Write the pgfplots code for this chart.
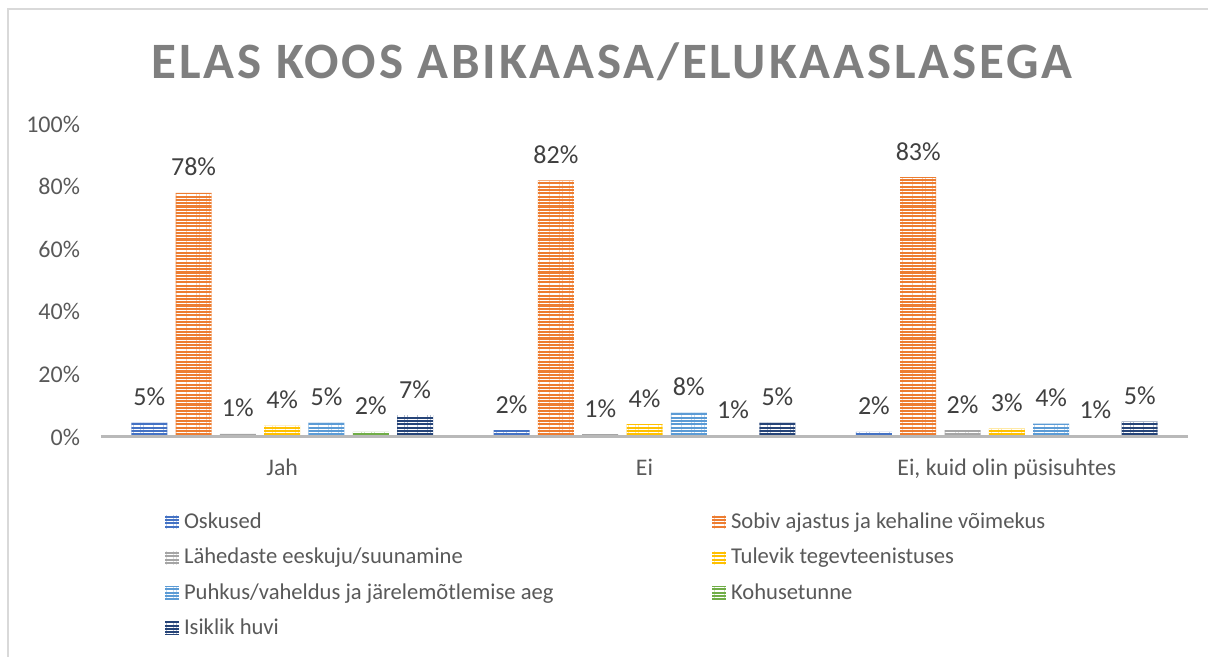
\documentclass[border=0pt]{standalone}
\usepackage{fontspec}
\setmainfont{Carlito}
\newfontfamily\titlefont[LetterSpace=5.5]{Carlito}
\usepackage{pgfplots}
\pgfplotsset{compat=1.18}
\usetikzlibrary{patterns.meta}
\definecolor{cOsk}{HTML}{4472C4}
\definecolor{cSob}{HTML}{ED7D31}
\definecolor{cLah}{HTML}{A5A5A5}
\definecolor{cTul}{HTML}{FFC000}
\definecolor{cPuh}{HTML}{5B9BD5}
\definecolor{cKoh}{HTML}{70AD47}
\definecolor{cIsi}{HTML}{264478}
\definecolor{txt}{HTML}{404040}
\definecolor{tick}{HTML}{595959}
\definecolor{ttl}{HTML}{7F7F7F}
\definecolor{frame}{HTML}{D9D9D9}
\tikzset{stripes/.style={postaction={pattern={Lines[angle=0,distance=1.65pt,line width=0.6pt]},pattern color=white,fill opacity=0.4}}}
\begin{document}
\begin{tikzpicture}
\path[use as bounding box] (0,0) rectangle (604pt,328.5pt);
\draw[frame, line width=1pt] (4pt,0pt) -- (4pt,324pt) -- (606pt,324pt);
\node[anchor=base, font=\titlefont\bfseries\fontsize{25.5}{30}\selectfont, text=ttl] at (306pt,289pt) {ELAS KOOS ABIKAASA/ELUKAASLASEGA};
\begin{axis}[
  at={(50.5pt,110pt)}, anchor=south west,
  scale only axis, width=543.5pt, height=156.5pt,
  xmin=-0.5, xmax=2.5, ymin=0, ymax=100,
  ybar=4.15pt, bar width=18pt,
  axis x line=bottom, axis y line=left,
  x axis line style={draw=gray!55, line width=1.5pt, -},
  y axis line style={draw=none},
  axis on top=true,
  major tick length=0pt,
  xtick={0,1,2},
  xticklabels={Jah, Ei, {Ei, kuid olin püsisuhtes}},
  ytick={0,20,40,60,80,100},
  yticklabel={\pgfmathprintnumber{\tick}\%},
  /pgf/number format/assume math mode=true,
  yticklabel style={font=\fontsize{12}{14}\selectfont, text=tick, xshift=-7pt},
  xticklabel style={font=\fontsize{11.9}{14}\selectfont, text=tick, yshift=-7.5pt},
  nodes near coords={\pgfmathprintnumber[fixed,precision=0]{\pgfplotspointmeta}\%},
  every node near coord/.append style={font=\fontsize{13}{15}\selectfont, text=txt, anchor=base, yshift=8.5pt, fill opacity=1},
  legend columns=2,
  legend style={at={(0.0589,-0.2406)}, anchor=north west, draw=none, inner sep=0pt, outer sep=0pt,
    font=\fontsize{11.3}{13}\selectfont, text=tick,
    nodes={inner xsep=2.5pt, inner ysep=0pt, text height=8pt, text depth=2.5pt},
    /tikz/column sep=0pt, /tikz/row sep=7.2pt},
  legend cell align=left,
  legend image code/.code={\fill[#1,draw=none] (0pt,-3.2pt) rectangle (7pt,3.8pt);},
]
\addplot[fill=cOsk, draw=none, stripes] coordinates {(0,4.6) (1,2.2) (2,1.6)};
\addplot[fill=cSob, draw=none, stripes] coordinates {(0,78) (1,82) (2,83)};
\addplot[fill=cLah, draw=none, stripes] coordinates {(0,1.0) (1,0.9) (2,2.2)};
\addplot[fill=cTul, draw=none, stripes] coordinates {(0,3.6) (1,4.1) (2,2.7)};
\addplot[fill=cPuh, draw=none, stripes] coordinates {(0,4.6) (1,7.8) (2,4.3)};
\addplot[fill=cKoh, draw=none, stripes] coordinates {(0,1.6) (1,0.55) (2,0.55)};
\addplot[fill=cIsi, draw=none, stripes] coordinates {(0,7.0) (1,4.6) (2,4.9)};
\addlegendentry{\makebox[261.5pt][l]{Oskused}}
\addlegendentry{Sobiv ajastus ja kehaline võimekus}
\addlegendentry{\makebox[261.5pt][l]{Lähedaste eeskuju/suunamine}}
\addlegendentry{Tulevik tegevteenistuses}
\addlegendentry{\makebox[261.5pt][l]{Puhkus/vaheldus ja järelemõtlemise aeg}}
\addlegendentry{Kohusetunne}
\addlegendentry{\makebox[261.5pt][l]{Isiklik huvi}}
\end{axis}
\end{tikzpicture}
\end{document}
